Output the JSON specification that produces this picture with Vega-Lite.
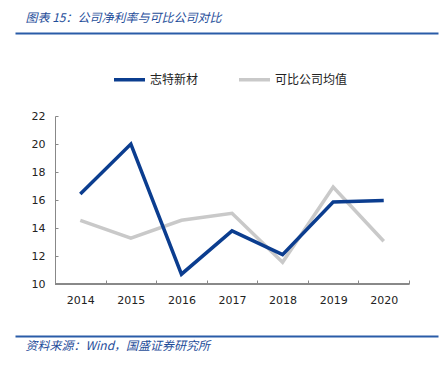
{
  "$schema": "https://vega.github.io/schema/vega-lite/v6.json",
  "width": 423,
  "height": 168,
  "autosize": "none",
  "padding": {"left": 15, "top": 116, "right": 6, "bottom": 84},
  "background": "white",
  "config": {"view": {"stroke": null}, "axis": {"labelFont": "DejaVu Sans", "labelFontSize": 11, "labelColor": "#222222", "grid": false}},
  "data": {"values": [
    {"year": "2014", "series": "志特新材", "value": 16.43},
    {"year": "2015", "series": "志特新材", "value": 20.0},
    {"year": "2016", "series": "志特新材", "value": 10.7},
    {"year": "2017", "series": "志特新材", "value": 13.8},
    {"year": "2018", "series": "志特新材", "value": 12.1},
    {"year": "2019", "series": "志特新材", "value": 15.86},
    {"year": "2020", "series": "志特新材", "value": 15.97},
    {"year": "2014", "series": "可比公司均值", "value": 14.55},
    {"year": "2015", "series": "可比公司均值", "value": 13.28},
    {"year": "2016", "series": "可比公司均值", "value": 14.55},
    {"year": "2017", "series": "可比公司均值", "value": 15.05},
    {"year": "2018", "series": "可比公司均值", "value": 11.55},
    {"year": "2019", "series": "可比公司均值", "value": 16.93},
    {"year": "2020", "series": "可比公司均值", "value": 13.05}
  ]},
  "layer": [
    {
      "encoding": {
        "x": {"field": "year", "type": "nominal", "scale": {"type": "band", "paddingInner": 0, "paddingOuter": 0.682, "align": 0.58},
          "axis": {"title": null, "domain": false, "ticks": true, "tickBand": "extent", "tickSize": -4, "tickColor": "#888888", "labelAngle": 0, "labelPadding": 14}},
        "y": {"field": "value", "type": "quantitative", "scale": {"domain": [10, 22], "nice": false, "zero": false},
          "axis": {"title": null, "values": [10, 12, 14, 16, 18, 20, 22], "offset": -40, "domainColor": "#888888", "tickColor": "#888888", "tickSize": -3, "labelPadding": 13}}
      },
      "layer": [
        {
          "transform": [{"filter": "datum.series === '可比公司均值'"}],
          "mark": {"type": "line", "strokeWidth": 3.5},
          "encoding": {"color": {"field": "series", "type": "nominal", "scale": {"domain": ["志特新材", "可比公司均值"], "range": ["#0B3D8F", "#C9C9C9"]},
            "legend": {"title": null, "orient": "none", "direction": "horizontal", "legendX": 97, "legendY": -54, "symbolType": "stroke", "symbolSize": 961, "symbolStrokeWidth": 3.5, "labelFont": "Noto Sans CJK SC", "labelFontSize": 12, "labelColor": "#222222", "labelOffset": 3, "columnPadding": 33}}}
        },
        {
          "transform": [{"filter": "datum.series === '志特新材'"}],
          "mark": {"type": "line", "strokeWidth": 3.5},
          "encoding": {"color": {"field": "series", "type": "nominal"}}
        },
        {
          "mark": {"type": "rule", "color": "#888888", "strokeWidth": 1},
          "encoding": {
            "x": {"datum": "2014", "bandPosition": 0},
            "x2": {"datum": "2020", "bandPosition": 1},
            "y": {"datum": 10}
          }
        }
      ]
    },
    {
      "mark": {"type": "rule", "strokeOpacity": 0},
      "encoding": {
        "x": {"field": "year", "type": "nominal",
          "axis": {"orient": "top", "offset": 83, "domainColor": "#2A5CA8", "domainWidth": 2, "ticks": false, "labels": false,
            "title": "图表 15：公司净利率与可比公司对比", "titleX": 10, "titleAlign": "left", "titlePadding": 9, "titleFont": "Noto Sans CJK SC", "titleFontSize": 12, "titleFontStyle": "italic", "titleFontWeight": "normal", "titleColor": "#1F4E9A"}}
      }
    },
    {
      "mark": {"type": "rule", "strokeOpacity": 0},
      "encoding": {
        "x": {"field": "year", "type": "nominal",
          "axis": {"orient": "bottom", "offset": 52, "domainColor": "#2A5CA8", "domainWidth": 2, "ticks": false, "labels": false,
            "title": "资料来源：Wind，国盛证券研究所", "titleX": 10, "titleAlign": "left", "titlePadding": 4, "titleFont": "Noto Sans CJK SC", "titleFontSize": 12, "titleFontStyle": "italic", "titleFontWeight": "normal", "titleColor": "#1F4E9A"}}
      }
    }
  ],
  "resolve": {"scale": {"x": "independent"}, "axis": {"x": "independent"}}
}
